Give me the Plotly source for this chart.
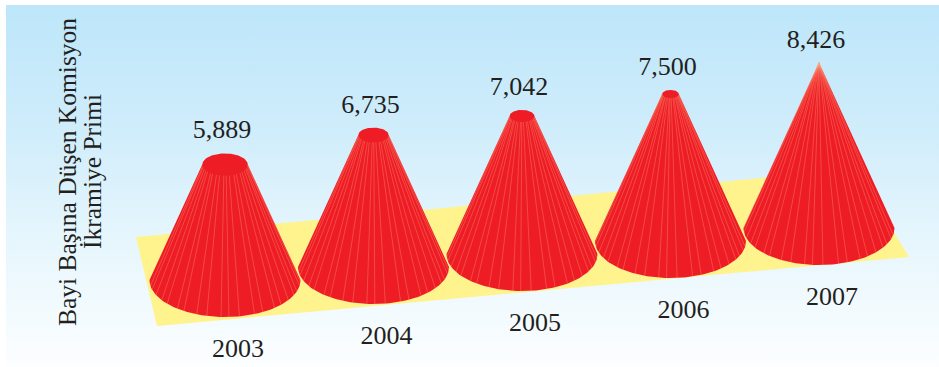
import numpy as np
import plotly.graph_objects as go

# ---- data ----
years = ["2003", "2004", "2005", "2006", "2007"]
values = [5889, 6735, 7042, 7500, 8426]
axis_title_line1 = "Bayi Başına Düşen Komisyon"
axis_title_line2 = "İkramiye Primi"

# ---- scale and style ----
W, H = 939, 367
PX_PER_CAT = 148.5      # pixels between neighbouring cones
PX_PER_UNIT = 0.0196    # vertical pixels per value unit
ORIGIN_X, ORIGIN_Y = 225.0, 280.0  # pixel of first cone's base centre
FLOOR_RISE = 13.0 / PX_PER_UNIT    # how much each cone's base rises on the floor
BASE_R = 75.5 / PX_PER_CAT         # base radius in category units
TILT_UNITS = 0.49 * 75.5 / PX_PER_UNIT  # base vertical radius in value units

FONT = "Liberation Serif"
INK = "#231F20"
RED = "#EE1C25"
STRIPE = "rgba(255,170,130,0.55)"
FLOOR = "#FFF38E"
SKY = [[0.0, "#FCFEFF"], [0.35, "#E6F6FD"], [0.65, "#D0EDFB"], [1.0, "#BDE6FA"]]

# angular position of the pale facet lines on the front of each cone (degrees)
stripe_deg = [7, 13, 22, 28, 37, 46, 53, 64, 71, 83, 91, 97, 108, 116, 127,
              133, 144, 151, 160, 169, 175]

x_range = [-ORIGIN_X / PX_PER_CAT, (W - ORIGIN_X) / PX_PER_CAT]
y_range = [(ORIGIN_Y - H) / PX_PER_UNIT, ORIGIN_Y / PX_PER_UNIT]
vmax = max(values)

fig = go.Figure()

# sky panel
px, py = 6 / PX_PER_CAT + x_range[0], y_range[1] - 5 / PX_PER_UNIT
fig.add_trace(go.Scatter(
    x=[px, x_range[1], x_range[1], px, px],
    y=[py, py, y_range[0], y_range[0], py],
    mode="lines", line=dict(width=0), fill="toself",
    fillgradient=dict(type="vertical", colorscale=SKY),
    hoverinfo="skip", showlegend=False))

# floor
fig.add_trace(go.Scatter(
    x=[-0.60, -0.458, 4.607, 4.24, -0.60],
    y=[2194, -2347, 1173, 5660, 2194],
    mode="lines", line=dict(width=0), fill="toself", fillcolor=FLOOR,
    hoverinfo="skip", showlegend=False))

# cones, back to front
for i in reversed(range(len(values))):
    v = values[i]
    base_y = i * FLOOR_RISE
    shrink = 1 - v / vmax
    rx_t, ry_t = BASE_R * shrink, TILT_UNITS * shrink
    top_y = base_y + v

    lower = np.radians(np.linspace(0, 180, 91))
    upper = np.radians(np.linspace(180, 360, 61))
    xs = np.concatenate([i + BASE_R * np.cos(lower), i + rx_t * np.cos(upper)])
    ys = np.concatenate([base_y - TILT_UNITS * np.sin(lower), top_y - ry_t * np.sin(upper)])
    fig.add_trace(go.Scatter(
        x=np.append(xs, xs[0]), y=np.append(ys, ys[0]),
        mode="lines", line=dict(width=0), fill="toself", fillcolor=RED,
        hoverinfo="skip", showlegend=False))

    sx, sy = [], []
    for d in stripe_deg:
        t = np.radians(d + (i * 2 - 4))
        sx += [i + rx_t * np.cos(t), i + BASE_R * np.cos(t), None]
        sy += [top_y - ry_t * np.sin(t), base_y - TILT_UNITS * np.sin(t), None]
    fig.add_trace(go.Scatter(
        x=sx, y=sy, mode="lines", line=dict(color=STRIPE, width=0.6),
        hoverinfo="skip", showlegend=False))

# value labels above each cone, year labels under the floor
label_gap = 21.5 / PX_PER_UNIT
tops = [i * FLOOR_RISE + v + TILT_UNITS * (1 - v / vmax) + label_gap for i, v in enumerate(values)]
fig.add_trace(go.Scatter(
    x=[i - 3 / PX_PER_CAT for i in range(len(values))], y=tops, mode="text",
    text=[f"{v:,}" for v in values], textposition="middle center",
    textfont=dict(family=FONT, size=26, color=INK),
    hoverinfo="skip", showlegend=False))

year_dx = 13 / PX_PER_CAT
year_drop = 70 / PX_PER_UNIT
fig.add_trace(go.Scatter(
    x=[i + year_dx for i in range(len(years))],
    y=[i * FLOOR_RISE - year_drop for i in range(len(years))],
    mode="text", text=years, textposition="middle center",
    textfont=dict(family=FONT, size=26, color=INK),
    hoverinfo="skip", showlegend=False))

for txt, xp in ((axis_title_line1, 67), (axis_title_line2, 92)):
    fig.add_annotation(
        text=txt, xref="paper", yref="paper", x=xp / W, y=1 - 172 / H,
        xanchor="center", yanchor="middle", textangle=-90, showarrow=False,
        font=dict(family=FONT, size=25.5, color=INK))

fig.update_layout(
    width=W, height=H, autosize=False, margin=dict(l=0, r=0, t=0, b=0),
    paper_bgcolor="white", plot_bgcolor="white", showlegend=False,
    xaxis=dict(range=x_range, visible=False, fixedrange=True),
    yaxis=dict(range=y_range, visible=False, fixedrange=True))

fig.write_html("out.html", config={"displayModeBar": False},
               post_script="document.body.style.margin='0';")
